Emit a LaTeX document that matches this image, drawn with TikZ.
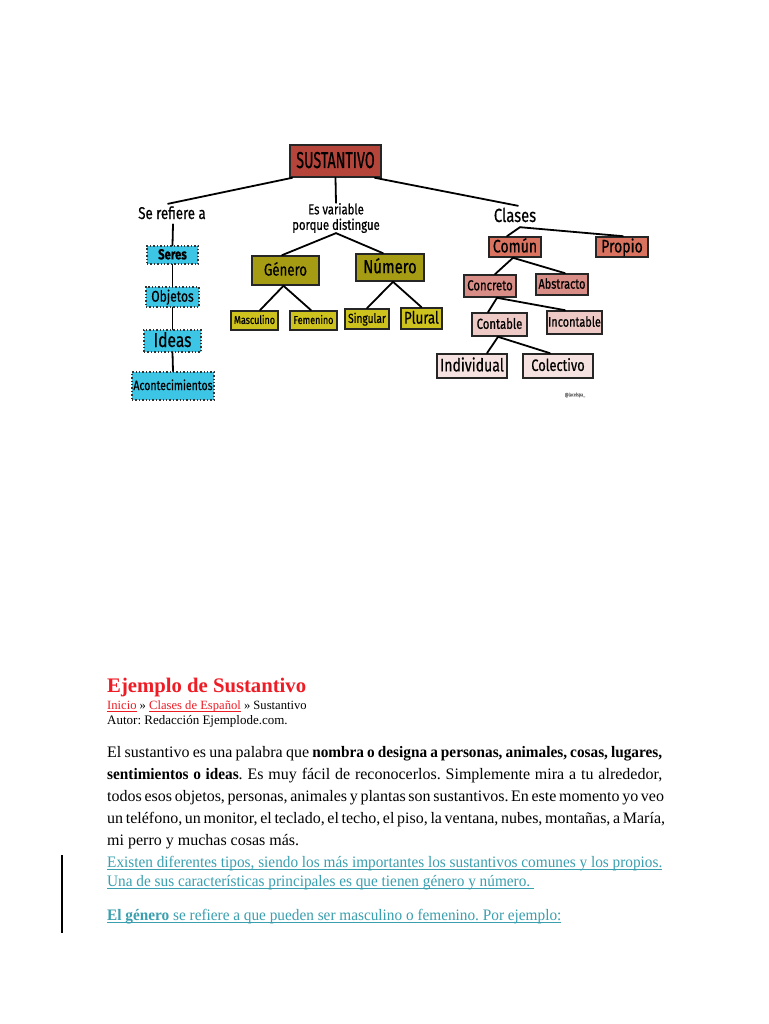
\documentclass[tikz,border=0pt]{standalone}
\usepackage{fontspec}
\setmainfont{Liberation Serif}
\newfontfamily\serifn[FakeStretch=0.955]{Liberation Serif}
\newfontfamily\hand[FakeStretch=0.78,FakeBold=0.5]{Fira Sans}
\newfontfamily\handc[FakeStretch=0.62,FakeBold=0.5]{Fira Sans}
\definecolor{sustred}{HTML}{B5443B}
\definecolor{cyanbox}{HTML}{3DC5E6}
\definecolor{olivedark}{HTML}{A69C14}
\definecolor{olivelight}{HTML}{CEC31E}
\definecolor{salmon}{HTML}{D9735F}
\definecolor{rose}{HTML}{D88D86}
\definecolor{pinklight}{HTML}{EDCAC6}
\definecolor{pinkpale}{HTML}{F5E2E0}
\definecolor{titlered}{HTML}{EE1C25}
\definecolor{teal}{HTML}{3A9FAF}
\newcommand{\fsz}[1]{\fontsize{#1}{#1}\selectfont}
\newcommand{\myul}[1]{\setbox0\hbox{#1}\rlap{\rule[-2.3pt]{\wd0}{0.8pt}}\box0}
\frenchspacing
\begin{document}
\begin{tikzpicture}[x=1pt,y=-1pt,
  box/.style={draw=black!85, line width=1.6pt, inner sep=0pt, text=black},
  dotbox/.style={draw=black!80, line width=1.4pt, dotted, inner sep=0pt, text=black, fill=cyanbox},
  fs/.style={font=\hand\fsz{#1}, text height={0.75*#1}, text depth={0.15*#1}},
  fsb/.style={font=\hand\bfseries\fsz{#1}, text height={0.75*#1}, text depth={0.15*#1}},
  lbl/.style={inner sep=0pt, font=\hand, text=black},
  conn/.style={draw=black, line width=1.8pt, line cap=round},
  txt/.style={anchor=base west, inner sep=0pt, font=\fsz{16}},
  bluetxt/.style={anchor=base west, inner sep=0pt, font=\serifn\fsz{16}, text=teal}
]
\fill[white] (0,0) rectangle (768,1024);
\useasboundingbox (0,0) rectangle (768,1024);

% ---- diagram ----
\node[box, fill=sustred, minimum width=91pt, minimum height=32pt, font=\handc\fsz{23}, text height=17pt, text depth=3pt] (sust) at (335.5,161) {SUSTANTIVO};

\node[lbl, font=\hand\fsz{17}, text height=11pt, text depth=5pt] (ref) at (172,216) {Se refiere a};
\node[lbl, font=\hand\fsz{14.5}, align=center] (var) at (336,218) {Es variable\\[1pt]porque distingue};
\node[lbl, font=\hand\fsz{19}, text height=13pt, text depth=3pt] (clases) at (515,217) {Clases};

\node[dotbox, minimum width=51pt, minimum height=18pt, fsb=14.5] (seres) at (172.5,255) {Seres};
\node[dotbox, minimum width=53pt, minimum height=20pt, fs=15.5] (objetos) at (172.5,297) {Objetos};
\node[dotbox, minimum width=57pt, minimum height=22pt, fs=20] (ideas) at (172.5,341) {Ideas};
\node[dotbox, minimum width=82pt, minimum height=28pt, fs=13.5] (acont) at (173,386) {Acontecimientos};

\node[box, fill=olivedark, minimum width=67pt, minimum height=29pt, fs=17] (genero) at (285.5,270.5) {Género};
\node[box, fill=olivedark, minimum width=68pt, minimum height=27pt, fs=19] (numero) at (390,267.5) {Número};
\node[box, fill=olivelight, minimum width=47pt, minimum height=19pt, fs=11.5] (masc) at (254.5,320.5) {Masculino};
\node[box, fill=olivelight, minimum width=47pt, minimum height=19pt, fs=11.5] (fem) at (313.5,320.5) {Femenino};
\node[box, fill=olivelight, minimum width=44pt, minimum height=20pt, fs=13] (sing) at (367,319) {Singular};
\node[box, fill=olivelight, minimum width=41pt, minimum height=21pt, fs=17] (plural) at (421.5,318.5) {Plural};

\node[box, fill=salmon, minimum width=52pt, minimum height=20pt, fs=18] (comun) at (515,247) {Común};
\node[box, fill=salmon, minimum width=52pt, minimum height=20pt, fs=18] (propio) at (622,247) {Propio};
\node[box, fill=rose, minimum width=52pt, minimum height=22pt, fs=14.5] (concreto) at (490,286) {Concreto};
\node[box, fill=rose, minimum width=52pt, minimum height=21pt, fs=14] (abstracto) at (562,284.5) {Abstracto};
\node[box, fill=pinklight, minimum width=55pt, minimum height=23pt, fs=14.5] (contable) at (499.5,324.5) {Contable};
\node[box, fill=pinklight, minimum width=55pt, minimum height=23pt, fs=14] (incontable) at (574.5,322.5) {Incontable};
\node[box, fill=pinkpale, minimum width=70pt, minimum height=24pt, fs=18] (individual) at (472,366) {Individual};
\node[box, fill=pinkpale, minimum width=70pt, minimum height=24pt, fs=16.5] (colectivo) at (558,366) {Colectivo};

\node[lbl, font=\hand\fsz{5}, text=black!55] (firma) at (575,395) {@lacelspa\_};

% connectors
\draw[conn] ([xshift=3pt]sust.south west) -- ([xshift=-4pt,yshift=4pt]ref.north);
\draw[conn] (sust.south) -- (var.north);
\draw[conn] ([xshift=-7pt]sust.south east) -- ([xshift=3pt,yshift=3pt]clases.north);
\draw[conn] ([xshift=1pt]ref.south) -- (seres.north);
\draw[conn] (seres.south) -- (objetos.north);
\draw[conn] (objetos.south) -- (ideas.north);
\draw[conn] (ideas.south) -- (acont.north);
\draw[conn] (var.south) -- ([xshift=-3.5pt]genero.north);
\draw[conn] (var.south) -- ([xshift=-7pt]numero.north);
\draw[conn] ([xshift=-2pt]genero.south) -- ([xshift=5.5pt]masc.north);
\draw[conn] ([xshift=-2pt]genero.south) -- ([xshift=-2.5pt]fem.north);
\draw[conn] ([xshift=3pt]numero.south) -- (sing.north);
\draw[conn] ([xshift=3pt]numero.south) -- (plural.north);
\draw[conn] ([xshift=5pt,yshift=-2pt]clases.south) -- ([xshift=-8pt]comun.north);
\draw[conn] ([xshift=5pt,yshift=-2pt]clases.south) -- ([xshift=1pt]propio.north);
\draw[conn] ([xshift=-2pt]comun.south) -- ([xshift=5pt]concreto.north);
\draw[conn] ([xshift=-2pt]comun.south) -- ([xshift=3pt]abstracto.north);
\draw[conn] ([xshift=7pt]concreto.south) -- ([xshift=-11.5pt]contable.north);
\draw[conn] ([xshift=7pt]concreto.south) -- ([xshift=-9.5pt]incontable.north);
\draw[conn] ([xshift=-1.5pt]contable.south) -- ([xshift=15pt]individual.north);
\draw[conn] ([xshift=-1.5pt]contable.south) -- ([xshift=-8pt]colectivo.north);

% ---- text ----
\node[anchor=base west, inner sep=0pt, font=\fsz{20.7}\bfseries, text=titlered] (title) at (107,692) {Ejemplo de Sustantivo};
\node[anchor=base west, inner sep=0pt, font=\fsz{12.6}] (crumb) at (107,709) {\textcolor{titlered}{\myul{Inicio}} » \textcolor{titlered}{\myul{Clases de Español}} » Sustantivo};
\node[anchor=base west, inner sep=0pt, font=\fsz{13}] (autor) at (107,724) {Autor: Redacción Ejemplode.com.};

\node[txt] (p1) at (107,757) {\makebox[555pt][s]{El sustantivo es una palabra que {\serifn\bfseries nombra o designa a personas, animales, cosas, lugares,}}};
\node[txt] (p2) at (107,779) {\makebox[555pt][s]{{\serifn\bfseries sentimientos o ideas}. Es muy fácil de reconocerlos. Simplemente mira a tu alrededor,}};
\node[txt] (p3) at (107,801) {\makebox[555pt][s]{todos esos objetos, personas, animales y plantas son sustantivos. En este momento yo veo}};
\node[txt] (p4) at (107,823) {\makebox[555pt][s]{un teléfono, un monitor, el teclado, el techo, el piso, la ventana, nubes, montañas, a María,}};
\node[txt] (p5) at (107,845) {mi perro y muchas cosas más.};

\node[bluetxt] (b1) at (107,867) {\myul{Existen diferentes tipos, siendo los más importantes los sustantivos comunes y los propios.}};
\node[bluetxt] (b2) at (107,886) {\myul{Una de sus características principales es que tienen género y número.\ }};
\node[bluetxt] (b3) at (107,920) {\myul{\textbf{El género} se refiere a que pueden ser masculino o femenino. Por ejemplo:}};

\draw[line width=1.2pt] (62,855) -- (62,933);
\end{tikzpicture}
\end{document}
